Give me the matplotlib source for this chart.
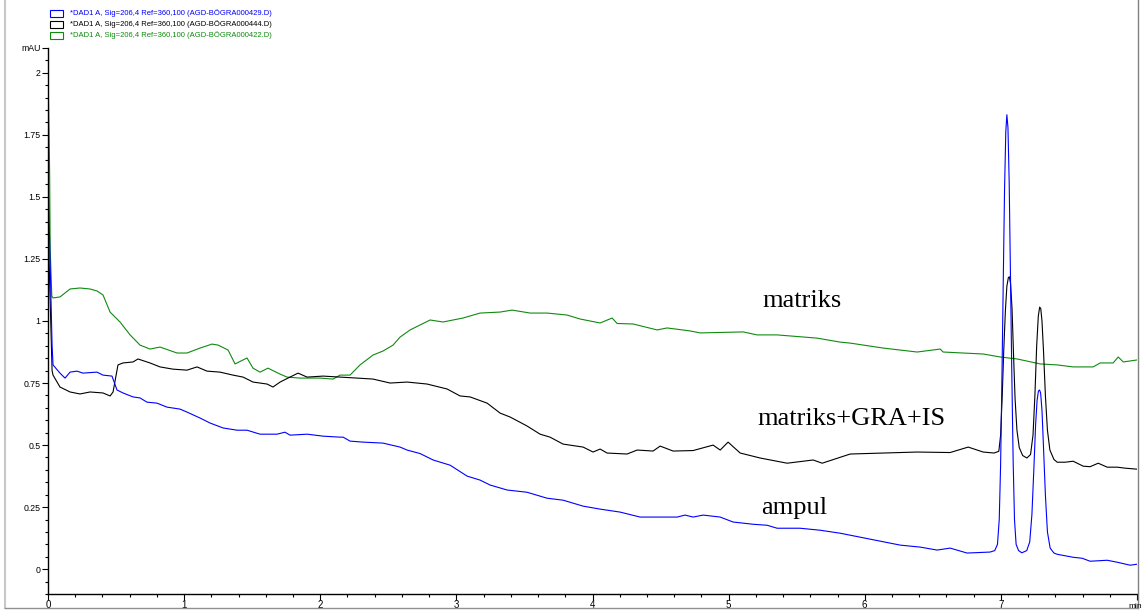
import matplotlib
matplotlib.use("Agg")
import matplotlib.pyplot as plt
from matplotlib.lines import Line2D
from matplotlib.patches import Rectangle
import numpy as np

# ---------------- data ----------------
green_t = [0, 0.012, 0.016, 0.028, 0.037, 0.088, 0.162, 0.235, 0.309, 0.360, 0.404, 0.456, 0.529,
           0.603, 0.676, 0.749, 0.823, 0.948, 1.021, 1.117, 1.205, 1.249, 1.323, 1.374, 1.462, 1.506,
           1.558, 1.616, 1.705, 1.756, 1.852, 1.999, 2.094, 2.145, 2.219, 2.292, 2.388, 2.461, 2.535,
           2.586, 2.660, 2.807, 2.902, 3.049, 3.174, 3.321, 3.409, 3.542, 3.666, 3.813, 3.909, 4.056,
           4.144, 4.181, 4.298, 4.475, 4.548, 4.717, 4.791, 5.107, 5.209, 5.356, 5.650, 5.819, 5.893,
           6.135, 6.385, 6.554, 6.576, 6.723, 6.870, 6.995, 7.120, 7.289, 7.414, 7.531, 7.678, 7.730,
           7.825, 7.862, 7.899, 8.0]
green_v = [2.02, 1.60, 1.29, 1.10, 1.093, 1.097, 1.129, 1.133, 1.129, 1.121, 1.105, 1.036, 0.996,
           0.944, 0.903, 0.887, 0.895, 0.871, 0.871, 0.891, 0.907, 0.903, 0.883, 0.827, 0.851, 0.810,
           0.794, 0.810, 0.786, 0.774, 0.770, 0.770, 0.766, 0.782, 0.782, 0.823, 0.863, 0.879, 0.903,
           0.935, 0.964, 1.004, 0.996, 1.012, 1.032, 1.036, 1.044, 1.032, 1.032, 1.024, 1.008, 0.992,
           1.012, 0.990, 0.988, 0.964, 0.972, 0.960, 0.952, 0.956, 0.944, 0.944, 0.931, 0.915, 0.911,
           0.891, 0.875, 0.887, 0.875, 0.871, 0.867, 0.855, 0.847, 0.827, 0.823, 0.815, 0.815, 0.831,
           0.831, 0.855, 0.835, 0.843]

black_t = [0, 0.015, 0.030, 0.037, 0.088, 0.162, 0.235, 0.309, 0.404, 0.456, 0.478, 0.514, 0.551,
           0.625, 0.661, 0.749, 0.823, 0.918, 1.021, 1.095, 1.168, 1.264, 1.359, 1.433, 1.506, 1.609,
           1.653, 1.705, 1.763, 1.837, 1.903, 2.021, 2.145, 2.270, 2.388, 2.513, 2.638, 2.785, 2.932,
           3.027, 3.101, 3.226, 3.321, 3.395, 3.519, 3.615, 3.688, 3.784, 3.931, 4.004, 4.056, 4.107,
           4.254, 4.328, 4.445, 4.497, 4.592, 4.739, 4.886, 4.938, 4.996, 5.085, 5.231, 5.430, 5.621,
           5.687, 5.893, 6.135, 6.385, 6.627, 6.760, 6.870, 6.950,
           6.985, 6.998, 7.010, 7.021, 7.033, 7.044, 7.055, 7.063, 7.071, 7.082, 7.092, 7.104, 7.118,
           7.135, 7.160, 7.191, 7.218, 7.236, 7.250, 7.263, 7.275, 7.285, 7.293, 7.302, 7.314, 7.327,
           7.342, 7.360, 7.390, 7.414, 7.472, 7.531, 7.605, 7.656, 7.715, 7.781, 7.855, 7.913, 8.0]
black_v = [1.40, 1.10, 0.80, 0.782, 0.734, 0.714, 0.706, 0.714, 0.710, 0.698, 0.714, 0.823, 0.831,
           0.835, 0.847, 0.831, 0.815, 0.806, 0.802, 0.815, 0.798, 0.794, 0.782, 0.774, 0.754, 0.746,
           0.734, 0.754, 0.770, 0.790, 0.774, 0.778, 0.774, 0.770, 0.766, 0.750, 0.754, 0.746, 0.726,
           0.698, 0.694, 0.669, 0.629, 0.613, 0.577, 0.544, 0.532, 0.504, 0.492, 0.472, 0.484, 0.468,
           0.464, 0.480, 0.476, 0.496, 0.476, 0.478, 0.500, 0.480, 0.512, 0.468, 0.448, 0.427, 0.440,
           0.427, 0.464, 0.468, 0.472, 0.470, 0.492, 0.472, 0.468,
           0.475, 0.540, 0.700, 0.880, 1.040, 1.140, 1.175, 1.178, 1.150, 1.050, 0.880, 0.690, 0.560,
           0.490, 0.458, 0.448, 0.462, 0.540, 0.700, 0.900, 1.020, 1.056, 1.050, 1.000, 0.870, 0.700,
           0.560, 0.480, 0.442, 0.431, 0.431, 0.435, 0.415, 0.413, 0.427, 0.411, 0.411, 0.407, 0.403]

blue_t = [0, 0.015, 0.030, 0.037, 0.088, 0.125, 0.162, 0.213, 0.257, 0.360, 0.404, 0.470, 0.507,
          0.551, 0.625, 0.676, 0.727, 0.801, 0.874, 0.970, 1.021, 1.117, 1.190, 1.286, 1.389, 1.462,
          1.558, 1.683, 1.741, 1.778, 1.903, 2.021, 2.145, 2.168, 2.219, 2.314, 2.461, 2.586, 2.638,
          2.733, 2.829, 2.954, 3.079, 3.174, 3.248, 3.373, 3.519, 3.666, 3.784, 3.931, 4.056, 4.203,
          4.350, 4.497, 4.622, 4.680, 4.739, 4.813, 4.938, 5.033, 5.180, 5.283, 5.356, 5.525, 5.672,
          5.819, 5.966, 6.113, 6.260, 6.407, 6.532, 6.627, 6.752, 6.921,
          6.955, 6.975, 6.988, 6.998, 7.008, 7.018, 7.027, 7.036, 7.044, 7.052, 7.061, 7.070, 7.080,
          7.090, 7.100, 7.112, 7.130, 7.154, 7.190, 7.212, 7.228, 7.242, 7.255, 7.266, 7.276, 7.284,
          7.292, 7.302, 7.314, 7.327, 7.342, 7.362, 7.390, 7.414, 7.531, 7.597, 7.656, 7.781, 7.855,
          7.950, 8.0]
blue_v = [1.60, 1.25, 0.90, 0.823, 0.790, 0.770, 0.794, 0.798, 0.790, 0.794, 0.782, 0.778, 0.722,
          0.710, 0.694, 0.690, 0.673, 0.669, 0.653, 0.645, 0.633, 0.609, 0.589, 0.569, 0.560, 0.560,
          0.544, 0.544, 0.552, 0.540, 0.544, 0.536, 0.532, 0.532, 0.516, 0.512, 0.508, 0.492, 0.480,
          0.466, 0.440, 0.419, 0.375, 0.359, 0.339, 0.319, 0.310, 0.286, 0.278, 0.254, 0.242, 0.230,
          0.210, 0.210, 0.210, 0.218, 0.210, 0.218, 0.210, 0.190, 0.181, 0.177, 0.165, 0.165, 0.157,
          0.145, 0.129, 0.113, 0.097, 0.089, 0.077, 0.085, 0.065, 0.069,
          0.075, 0.100, 0.200, 0.420, 0.780, 1.180, 1.530, 1.760, 1.831, 1.780, 1.560, 1.200, 0.800,
          0.440, 0.200, 0.100, 0.075, 0.066, 0.075, 0.110, 0.220, 0.400, 0.580, 0.680, 0.718, 0.722,
          0.710, 0.640, 0.480, 0.300, 0.150, 0.085, 0.065, 0.060, 0.048, 0.044, 0.032, 0.036, 0.028,
          0.016, 0.020]

legend_labels = ["*DAD1 A, Sig=206,4 Ref=360,100 (AGD-BÖGRA000429.D)",
                 "*DAD1 A, Sig=206,4 Ref=360,100 (AGD-BÖGRA000444.D)",
                 "*DAD1 A, Sig=206,4 Ref=360,100 (AGD-BÖGRA000422.D)"]
y_ticks = [0, 0.25, 0.5, 0.75, 1, 1.25, 1.5, 1.75, 2, 2.1]
y_labels = ["0", "0.25", "0.5", "0.75", "1", "1.25", "1.5", "1.75", "2", "mAU"]
x_ticks = [0, 1, 2, 3, 4, 5, 6, 7, 8]
x_labels = ["0", "1", "2", "3", "4", "5", "6", "7", ""]
annotations = [("matriks", 5.54, 1.056), ("matriks+GRA+IS", 5.90, 0.581), ("ampul", 5.478, 0.222)]

# ---------------- figure ----------------
W, H = 1144, 611
fig = plt.figure(figsize=(W / 100, H / 100), dpi=100)
fig.patch.set_facecolor("white")
plt.rcParams['font.family'] = ['Liberation Sans', 'DejaVu Sans']

ax = fig.add_axes([48 / W, 1 - 594 / H, (1137 - 48) / W, (594 - 48) / H])
ax.set_xlim(0, 8)
ax.set_ylim(-0.1, 2.1)

BLUE, BLACK, GREEN = "#0000ff", "#000000", "#108a10"
ax.plot(green_t, green_v, color=GREEN, lw=0.8)
ax.plot(black_t, black_v, color=BLACK, lw=0.8)
ax.plot(blue_t, blue_v, color=BLUE, lw=0.8)

for s in ["top", "right"]:
    ax.spines[s].set_visible(False)
for s in ["left", "bottom"]:
    ax.spines[s].set_linewidth(1.0)
    ax.spines[s].set_color("black")

ax.set_yticks(y_ticks)
ax.set_yticklabels(y_labels)
ax.set_yticks(np.arange(-0.1, 2.1001, 0.05), minor=True)
ax.set_xticks(x_ticks)
ax.set_xticklabels(x_labels)
ax.set_xticks(np.arange(0, 8.0001, 0.2), minor=True)
ax.tick_params(axis="y", which="major", length=4.5, width=0.8, labelsize=6.3, pad=1)
ax.tick_params(axis="y", which="minor", length=2.2, width=0.8)
ax.tick_params(axis="x", which="major", length=4.0, width=0.8, labelsize=7, pad=0.5)
ax.tick_params(axis="x", which="minor", length=2.2, width=0.8)

for txt, tx, ty in annotations:
    ax.text(tx, ty, txt, ha="center", va="baseline", fontsize=19,
            family=["Liberation Serif", "DejaVu Serif"], color="black")

# "min" axis unit at right end
fig.text(1128 / W, 1 - 606 / H, "min", fontsize=6, ha="left", va="center", color="black")

# legend (boxes + coloured text)
rows_y = [13.5, 24.5, 35.5]
for lab, col, yy in zip(legend_labels, [BLUE, BLACK, GREEN], rows_y):
    fig.add_artist(Rectangle((50 / W, 1 - (yy + 3.5) / H), 13 / W, 7 / H, transform=fig.transFigure,
                             fill=False, edgecolor=col, lw=0.8))
    fig.text(70 / W, 1 - yy / H, lab, fontsize=5.5, color=col, ha="left", va="center")

# figure frame lines
fig.add_artist(Line2D([5 / W, 5 / W], [1 - 608 / H, 1], transform=fig.transFigure, color="#c8c8c8", lw=1.5))
fig.add_artist(Line2D([1138 / W, 1138 / W], [1 - 608 / H, 1], transform=fig.transFigure, color="#808080", lw=1.0))
fig.add_artist(Line2D([5 / W, 1138 / W], [1 - 608 / H, 1 - 608 / H], transform=fig.transFigure, color="#909090", lw=1.0))

fig.savefig("out.png", dpi=100, facecolor="white")
